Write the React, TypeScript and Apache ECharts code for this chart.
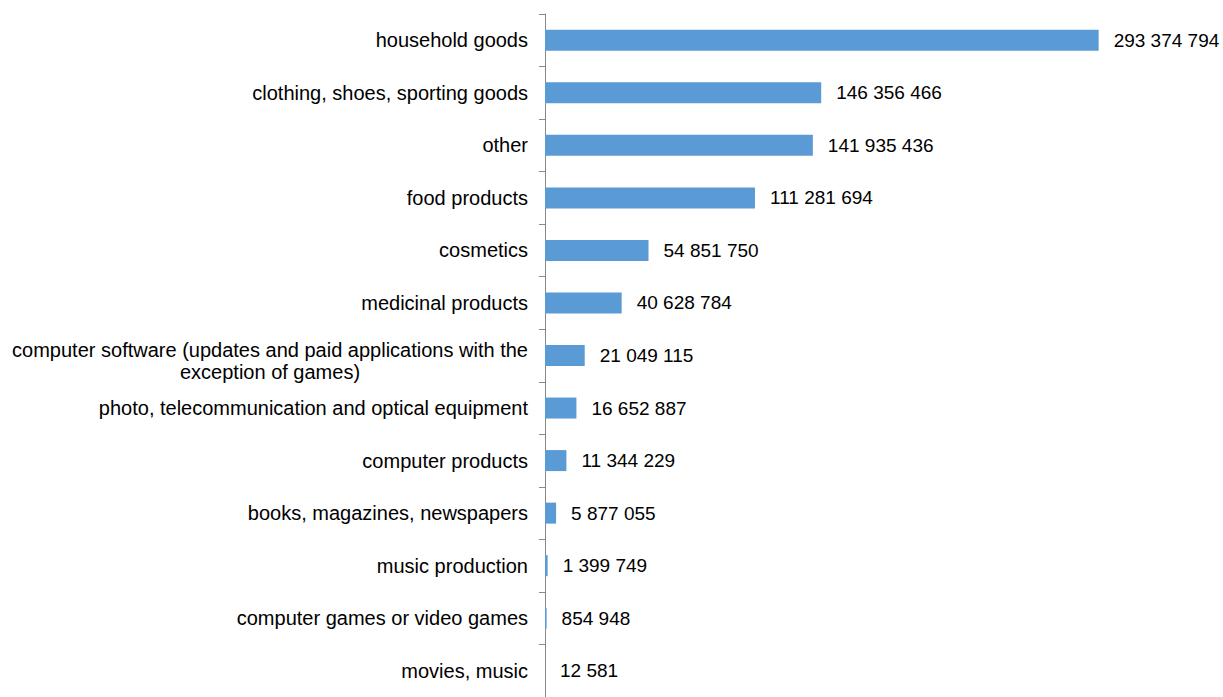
import React, { useEffect, useRef } from "react";
import * as echarts from "echarts";

const categories = [
  "household goods",
  "clothing, shoes, sporting goods",
  "other",
  "food products",
  "cosmetics",
  "medicinal products",
  "computer software (updates and paid applications with the exception of games)",
  "photo, telecommunication and optical equipment",
  "computer products",
  "books, magazines, newspapers",
  "music production",
  "computer games or video games",
  "movies, music",
];

const values = [
  293374794, 146356466, 141935436, 111281694, 54851750, 40628784, 21049115,
  16652887, 11344229, 5877055, 1399749, 854948, 12581,
];

const LONG_LINE_1 = "computer software (updates and paid applications with the";
const LONG_LINE_2 = "exception of games)";

const FONT = "Liberation Sans";
const CAT_FONT_SIZE = 20;
const VAL_FONT_SIZE = 19;

function fmt(v: number): string {
  return String(v).replace(/\B(?=(\d{3})+(?!\d))/g, " ");
}

function measure(text: string): number {
  const c = document.createElement("canvas");
  const ctx = c.getContext("2d");
  if (!ctx) return text.length * 9;
  ctx.font = `${CAT_FONT_SIZE}px "${FONT}"`;
  return Math.ceil(ctx.measureText(text).width);
}

export default function App() {
  const ref = useRef<HTMLDivElement>(null);

  useEffect(() => {
    document.body.style.margin = "0";
    if (!ref.current) return;
    const chart = echarts.init(ref.current, undefined, { renderer: "svg" });
    const w = measure(LONG_LINE_1);
    const lineStyle = {
      width: w,
      align: "center",
      fontSize: CAT_FONT_SIZE,
      fontFamily: FONT,
      color: "#000000",
      lineHeight: 22,
      padding: [11, 0, 0, 0],
    };
    chart.setOption({
      animation: false,
      backgroundColor: "#ffffff",
      grid: { left: 545, top: 14, width: 660.5, height: 690, containLabel: false },
      xAxis: {
        type: "value",
        min: 0,
        max: 350000000,
        show: false,
      },
      yAxis: {
        type: "category",
        inverse: true,
        data: categories,
        axisLine: { show: true, lineStyle: { color: "#898989", width: 1 } },
        axisTick: { show: true, length: 6, lineStyle: { color: "#898989", width: 1 } },
        axisLabel: {
          margin: 17,
          fontSize: CAT_FONT_SIZE,
          fontFamily: FONT,
          color: "#000000",
          interval: 0,
          formatter: (val: string) =>
            val.startsWith("computer software")
              ? `{a|${LONG_LINE_1}}\n{b|${LONG_LINE_2}}`
              : val,
          rich: {
            a: { ...lineStyle },
            b: { ...lineStyle },
          },
        },
        splitLine: { show: false },
      },
      series: [
        {
          type: "bar",
          data: values,
          barWidth: "40%",
          itemStyle: { color: "#5B9BD5" },
          label: {
            show: true,
            position: "right",
            distance: 15,
            fontSize: VAL_FONT_SIZE,
            fontFamily: FONT,
            color: "#000000",
            formatter: (p: any) => fmt(p.value),
          },
        },
      ],
    });
    return () => chart.dispose();
  }, []);

  return <div ref={ref} style={{ width: 1223, height: 697 }} />;
}
